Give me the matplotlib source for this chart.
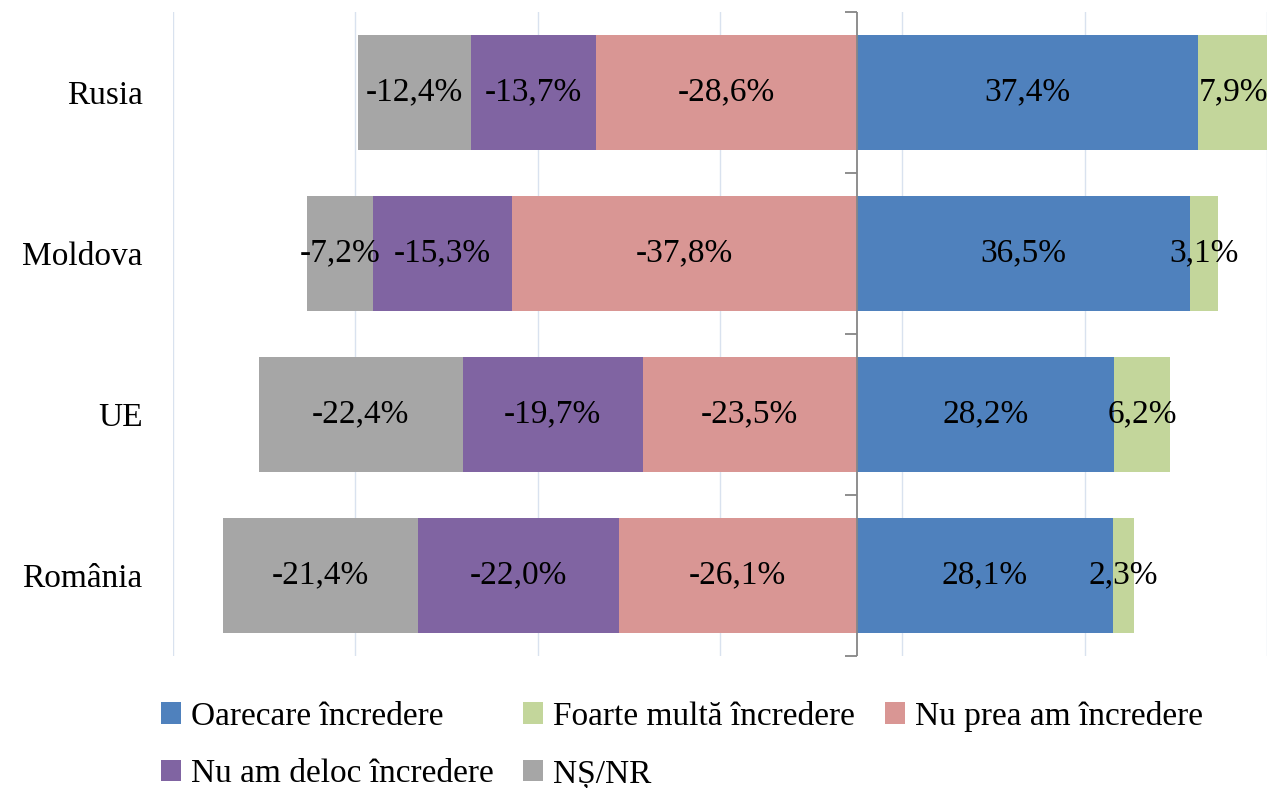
import matplotlib.pyplot as plt
from matplotlib.patches import Patch

# Data (percent), Rusia at top
countries = ['Rusia', 'Moldova', 'UE', 'România']
oarecare = [37.4, 36.5, 28.2, 28.1]
foarte_multa = [7.9, 3.1, 6.2, 2.3]
nu_prea = [-28.6, -37.8, -23.5, -26.1]
nu_deloc = [-13.7, -15.3, -19.7, -22.0]
ns_nr = [-12.4, -7.2, -22.4, -21.4]

series_names = ['Oarecare încredere', 'Foarte multă încredere', 'Nu prea am încredere',
                'Nu am deloc încredere', 'NȘ/NR']
colors = ['#4F81BD', '#C3D69B', '#D99694', '#8064A2', '#A6A6A6']

plt.rcParams['font.family'] = ['Liberation Serif', 'DejaVu Serif']
FS = 24

fig = plt.figure(figsize=(12.67, 7.88), dpi=100)
ax = fig.add_axes([173 / 1267, 1 - 656 / 788, 1 - 173 / 1267, (656 - 12) / 788])

ypos = list(range(len(countries)))
h = 0.715

# positive side
left_pos = [0] * len(countries)
neg_left = [0] * len(countries)
for vals, col in [(oarecare, colors[0]), (foarte_multa, colors[1])]:
    bars = ax.barh(ypos, vals, left=left_pos, height=h, color=col, zorder=2)
    for b, v in zip(bars, vals):
        ax.text(b.get_x() + b.get_width() / 2, b.get_y() + h / 2,
                f'{v:.1f}%'.replace('.', ','), ha='center', va='center',
                fontsize=FS, color='black', zorder=4, clip_on=False)
    left_pos = [l + v for l, v in zip(left_pos, vals)]

# negative side
for vals, col in [(nu_prea, colors[2]), (nu_deloc, colors[3]), (ns_nr, colors[4])]:
    bars = ax.barh(ypos, vals, left=neg_left, height=h, color=col, zorder=2)
    for b, v in zip(bars, vals):
        ax.text(b.get_x() + b.get_width() / 2, b.get_y() + h / 2,
                f'{v:.1f}%'.replace('.', ','), ha='center', va='center',
                fontsize=FS, color='black', zorder=4)
    neg_left = [l + v for l, v in zip(neg_left, vals)]

ax.set_xlim(-75, 45)
ax.set_ylim(-0.5, len(countries) - 0.5)
ax.invert_yaxis()

ax.set_xticks(range(-75, 46, 20))
ax.set_xticklabels([])
ax.tick_params(axis='x', length=0)
ax.grid(axis='x', color='#D9E2EF', linewidth=1, zorder=0)

ax.set_yticks(ypos)
ax.set_yticklabels(countries, fontsize=FS)
ax.tick_params(axis='y', length=0, pad=22)

for s in ax.spines.values():
    s.set_visible(False)

# central axis with category separator ticks
ax.axvline(0, color='#868686', linewidth=1.3, zorder=3)
bounds = [y - 0.5 for y in range(len(countries) + 1)]
ax.plot([0] * len(bounds), bounds, marker=0, markersize=9, markeredgewidth=1.3,
        linestyle='none', color='#868686', zorder=3, clip_on=False)

handles = [Patch(facecolor=c, edgecolor='none') for c in colors]
order = [0, 3, 1, 4, 2]
ax.legend([handles[i] for i in order], [series_names[i] for i in order],
          ncol=3, loc='upper left', bbox_to_anchor=(144 / 1267, 1 - 684 / 788),
          bbox_transform=fig.transFigure, frameon=False, fontsize=FS,
          handlelength=0.6, handleheight=0.6, handletextpad=0.3,
          columnspacing=0.9, labelspacing=0.82, borderpad=0)

fig.savefig('out.png', dpi=100)
